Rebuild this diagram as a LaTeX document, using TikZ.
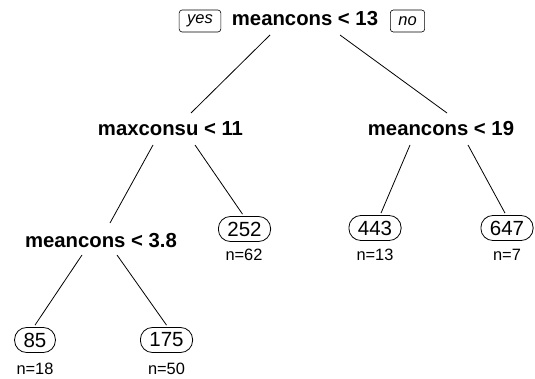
\documentclass[tikz,border=0pt]{standalone}
\usepackage{fontspec}
\setmainfont{Liberation Sans}
\begin{document}
\begin{tikzpicture}[x=1pt,y=-1pt,
  splitlbl/.style={font=\fontsize{20.3}{22}\selectfont\bfseries, inner sep=0pt},
  leaf/.style={draw, rectangle, rounded corners=12pt, font=\fontsize{20.5}{22}\selectfont, inner xsep=9pt, inner ysep=0pt, minimum height=25pt, line width=0.8pt},
  ncount/.style={font=\fontsize{16.4}{18}\selectfont, inner sep=0pt},
  yn/.style={draw, rounded corners=3pt, font=\fontsize{16.5}{18}\selectfont\itshape, inner xsep=8pt, inner ysep=0pt, minimum height=22pt, line width=0.6pt},
  branch/.style={line width=0.8pt}]
\useasboundingbox (0,0) rectangle (535,379);
\node[splitlbl] (r) at (305,19) {meancons < 13};
\node[yn] (yes) at (200,21) {yes};
\node[yn] (no) at (407.5,21) {no};
\node[splitlbl] (m1) at (170.5,129) {maxconsu < 11};
\node[splitlbl] (m2) at (441,129) {meancons < 19};
\node[splitlbl] (m3) at (101,241) {meancons < 3.8};
\node[leaf] (l252) at (244.5,229) {252};
\node[leaf] (l443) at (375,228) {443};
\node[leaf] (l647) at (507,228) {647};
\node[leaf] (l85) at (35,340) {85};
\node[leaf] (l175) at (166.5,340) {175};
\node[ncount] (c252) at (244,255) {n=62};
\node[ncount] (c443) at (375,255) {n=13};
\node[ncount] (c647) at (507,255) {n=7};
\node[ncount] (c85) at (35,369) {n=18};
\node[ncount] (c175) at (166.5,369) {n=50};
\draw[branch] ([shift={(-35,16)}]r.center) -- ([shift={(20.5,-16)}]m1.center);
\draw[branch] ([shift={(35,16)}]r.center) -- ([shift={(6,-16)}]m2.center);
\draw[branch] ([shift={(-17.5,16)}]m1.center) -- ([shift={(9,-18)}]m3.center);
\draw[branch] ([shift={(24.5,16)}]m1.center) -- ([shift={(-2,-2)}]l252.north);
\draw[branch] ([shift={(-31,16)}]m2.center) -- ([shift={(6,-2)}]l443.north);
\draw[branch] ([shift={(27,16)}]m2.center) -- ([shift={(-2,-2)}]l647.north);
\draw[branch] ([shift={(-19,14)}]m3.center) -- ([shift={(0,-2)}]l85.north);
\draw[branch] ([shift={(16,14)}]m3.center) -- ([shift={(0,-2)}]l175.north);
\end{tikzpicture}
\end{document}
